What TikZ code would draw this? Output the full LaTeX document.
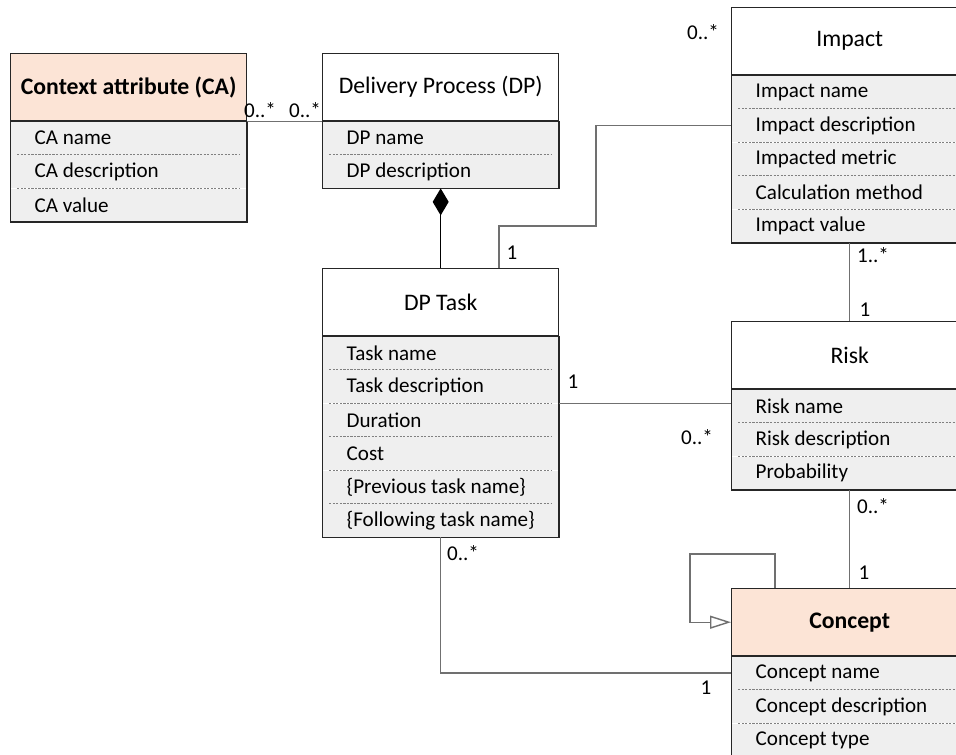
\documentclass[tikz,border=0pt]{standalone}
\usepackage{fontspec}
\setmainfont{Carlito}
\usepackage{tikz}
\usetikzlibrary{arrows.meta,positioning}
\definecolor{peach}{HTML}{FCE4D6}
\definecolor{bodygray}{HTML}{EFEFEF}
\definecolor{linegray}{HTML}{707070}
\tikzstyle{cls}=[rectangle,draw=black!85,line width=0.8pt,fill=white,minimum width=4.72cm,minimum height=1.34cm,inner sep=0pt,anchor=north west,font=\fontsize{13.5}{16}\selectfont]
\tikzstyle{clsh}=[cls,fill=peach,font=\fontsize{13.5}{16}\selectfont\bfseries]
\tikzstyle{attr}=[rectangle,fill=bodygray,minimum width=4.72cm,minimum height=0.656cm,text width=4.24cm,inner xsep=0.24cm,inner ysep=0pt,align=flush left,execute at begin node={\hspace*{0.24cm}}]
\tikzstyle{body}=[draw=black!85,line width=0.8pt]
\tikzstyle{sep}=[draw=gray,dash pattern=on 1.2pt off 0.8pt,line width=0.5pt]
\tikzstyle{assoc}=[draw=linegray,line width=0.8pt]
\tikzstyle{comp}=[assoc,draw=black,{Diamond[length=0.54cm,width=0.32cm]}-]
\tikzstyle{gen}=[assoc,-{Triangle[open,length=0.42cm,width=0.26cm,fill=white]}]
\tikzstyle{mult}=[inner sep=0pt]

\begin{document}
\begin{tikzpicture}[x=0.02cm,y=-0.02cm,font=\fontsize{12}{14}\selectfont]
  \clip (0,0) rectangle (956,754);
  \fill[white] (0,0) rectangle (956,754);
  %Classes
  \node[clsh] (ca)   at (10,53)  {Context attribute (CA)};
  \node[attr,below=0pt of ca]   (ca-1) {CA name};
  \node[attr,below=0pt of ca-1] (ca-2) {CA description};
  \node[attr,below=0pt of ca-2] (ca-3) {CA value};

  \node[cls] (dp)    at (322,53) {Delivery Process (DP)};
  \node[attr,below=0pt of dp]   (dp-1) {DP name};
  \node[attr,below=0pt of dp-1] (dp-2) {DP description};

  \node[cls] (task)  at (322,268) {DP Task};
  \node[attr,below=0pt of task]   (task-1) {Task name};
  \node[attr,below=0pt of task-1] (task-2) {Task description};
  \node[attr,below=0pt of task-2] (task-3) {Duration};
  \node[attr,below=0pt of task-3] (task-4) {Cost};
  \node[attr,below=0pt of task-4] (task-5) {\{Previous task name\}};
  \node[attr,below=0pt of task-5] (task-6) {\{Following task name\}};

  \node[cls] (imp)   at (731,7) {Impact};
  \node[attr,below=0pt of imp]   (imp-1) {Impact name};
  \node[attr,below=0pt of imp-1] (imp-2) {Impact description};
  \node[attr,below=0pt of imp-2] (imp-3) {Impacted metric};
  \node[attr,below=0pt of imp-3] (imp-4) {Calculation method};
  \node[attr,below=0pt of imp-4] (imp-5) {Impact value};

  \node[cls] (risk)  at (731,321) {Risk};
  \node[attr,below=0pt of risk]   (risk-1) {Risk name};
  \node[attr,below=0pt of risk-1] (risk-2) {Risk description};
  \node[attr,below=0pt of risk-2] (risk-3) {Probability};

  \node[clsh] (con)  at (731,588) {Concept};
  \node[attr,below=0pt of con]   (con-1) {Concept name};
  \node[attr,below=0pt of con-1] (con-2) {Concept description};
  \node[attr,below=0pt of con-2] (con-3) {Concept type};

  %Separators and outlines
  \foreach \c/\n in {ca/2,dp/1,task/5,imp/4,risk/2,con/2}
    \foreach \i in {1,...,\n}
      \draw[sep] ([xshift=0.14cm]\c-\i.south west) -- ([xshift=-0.14cm]\c-\i.south east);
  \draw[body] (ca-1.north west) rectangle (ca-3.south east);
  \draw[body] (dp-1.north west) rectangle (dp-2.south east);
  \draw[body] (task-1.north west) rectangle (task-6.south east);
  \draw[body] (imp-1.north west) rectangle (imp-5.south east);
  \draw[body] (risk-1.north west) rectangle (risk-3.south east);
  \draw[body] (con-1.north west) rectangle (con-3.south east);

  %Lines
  \coordinate (ti) at ([xshift=3.54cm]task.north west);
  \coordinate (lp) at ([xshift=0.88cm]con.north west);
  \draw[assoc] (ca.south east) -- (dp.south west);
  \draw[comp] (dp-2.south) -- (task.north);
  \draw[assoc] (ti) |- (596,226) |- (imp-2.west);
  \draw[assoc] (imp-5.south) -- (risk.north);
  \draw[assoc] (task-3.north east) -- (task-3.north east -| risk.west);
  \draw[assoc] (risk-3.south) -- (con.north);
  \draw[assoc] (task-6.south) |- (con-1.west);
  \draw[gen] (lp) |- (690,554) |- (con.west);

  %Multiplicities
  \node[mult] (m-ca)   at (260,110) {0..*};
  \node[mult] (m-dp)   at (305,110) {0..*};
  \node[mult] (m-imp)  at (703,32)  {0..*};
  \node[mult] (m-ti)   at (512,253) {1};
  \node[mult] (m-ir1)  at (873,255) {1..*};
  \node[mult] (m-ir2)  at (865,310) {1};
  \node[mult] (m-tr1)  at (573,382) {1};
  \node[mult] (m-tr2)  at (697,437) {0..*};
  \node[mult] (m-rc1)  at (873,506) {0..*};
  \node[mult] (m-rc2)  at (864,573) {1};
  \node[mult] (m-tc1)  at (463,553) {0..*};
  \node[mult] (m-tc2)  at (706,688) {1};
\end{tikzpicture}
\end{document}
